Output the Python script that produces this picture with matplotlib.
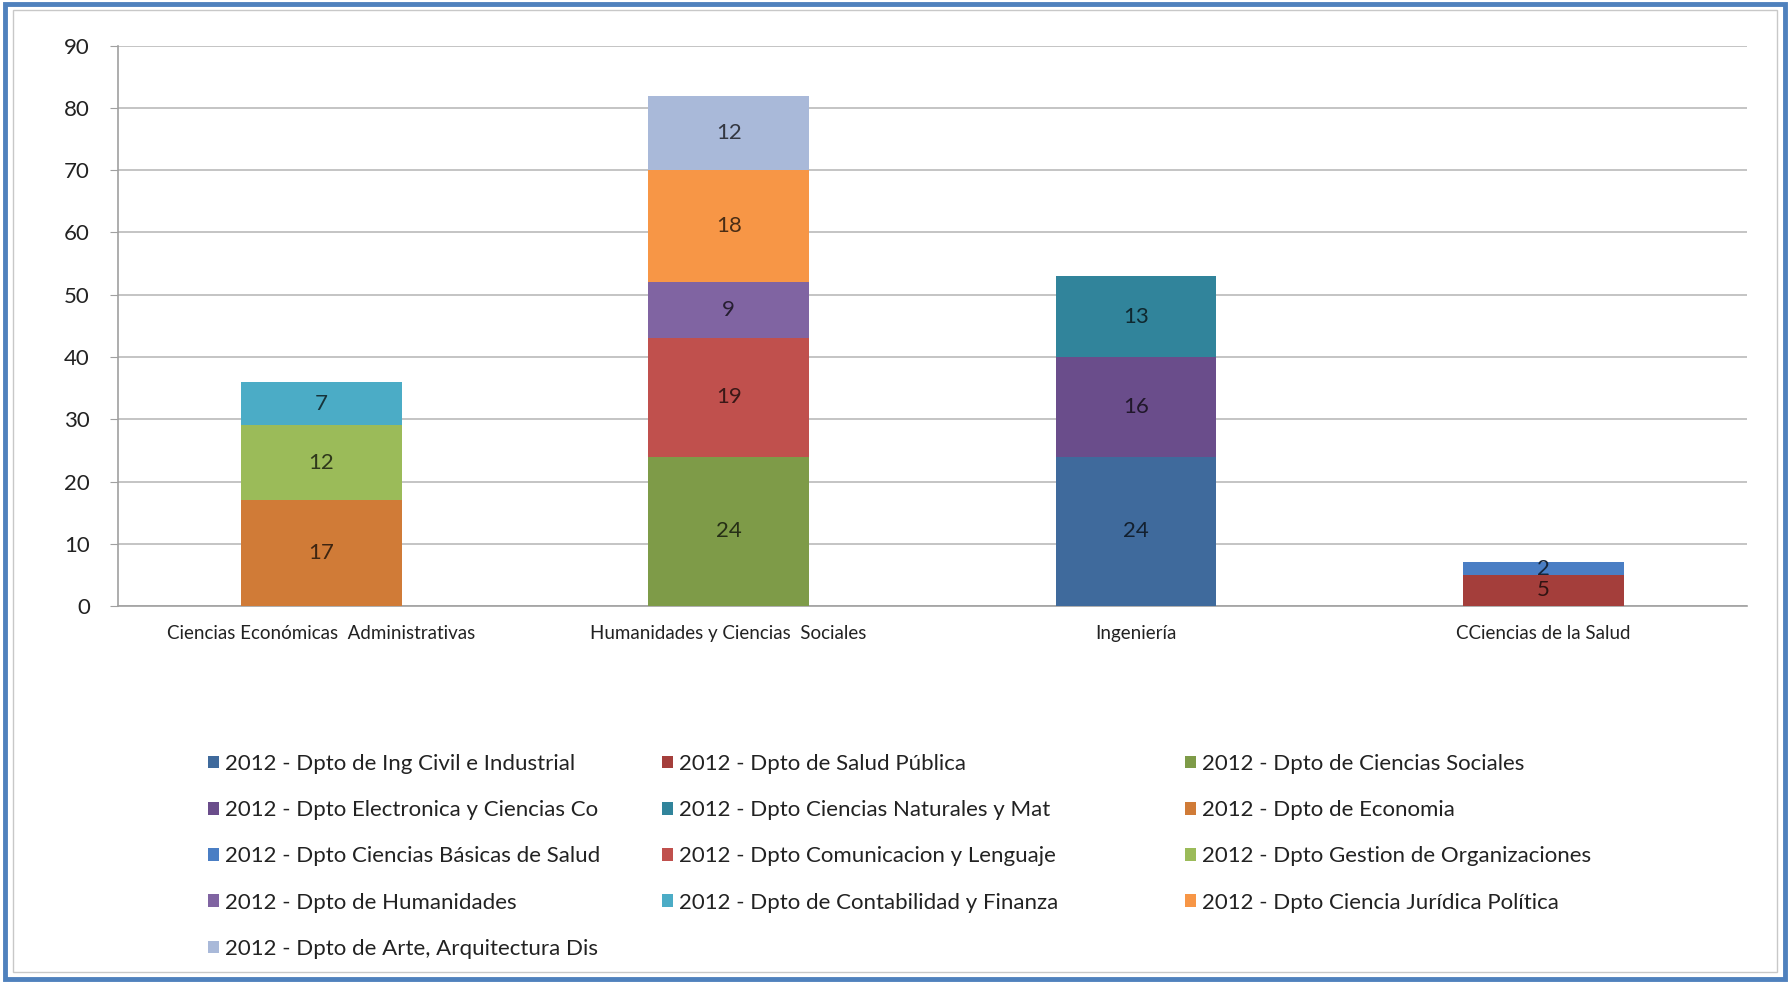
import matplotlib
matplotlib.use("Agg")
import matplotlib.pyplot as plt
from matplotlib.patches import Rectangle
import numpy as np

plt.rcParams['font.family'] = ['Lato', 'DejaVu Sans']

categories = ["Ciencias Económicas  Administrativas", "Humanidades y Ciencias  Sociales",
              "Ingeniería", "CCiencias de la Salud"]

series_names = [
    "2012 - Dpto de Ing Civil e Industrial",
    "2012 - Dpto de Salud Pública",
    "2012 - Dpto de Ciencias Sociales",
    "2012 - Dpto Electronica y Ciencias Co",
    "2012 - Dpto Ciencias Naturales y Mat",
    "2012 - Dpto de Economia",
    "2012 - Dpto Ciencias Básicas de Salud",
    "2012 - Dpto Comunicacion y Lenguaje",
    "2012 - Dpto Gestion de Organizaciones",
    "2012 - Dpto de Humanidades",
    "2012 - Dpto de Contabilidad y Finanza",
    "2012 - Dpto Ciencia Jurídica Política",
    "2012 - Dpto de Arte, Arquitectura Dis",
]

ing_civil        = [0, 0, 24, 0]
salud_publica    = [0, 0, 0, 5]
ciencias_soc     = [0, 24, 0, 0]
electronica      = [0, 0, 16, 0]
ciencias_nat     = [0, 0, 13, 0]
economia         = [17, 0, 0, 0]
ciencias_basicas = [0, 0, 0, 2]
comunicacion     = [0, 19, 0, 0]
gestion          = [12, 0, 0, 0]
humanidades      = [0, 9, 0, 0]
contabilidad     = [7, 0, 0, 0]
juridica         = [0, 18, 0, 0]
arte             = [0, 12, 0, 0]

series_values = [ing_civil, salud_publica, ciencias_soc, electronica, ciencias_nat,
                 economia, ciencias_basicas, comunicacion, gestion, humanidades,
                 contabilidad, juridica, arte]

colors = ["#3F6A9C", "#A43E3B", "#7E9B48", "#6A4D8B", "#31849B", "#D07B37",
          "#4A7EC4", "#C0504D", "#9BBB59", "#8064A2", "#4BACC6", "#F79646", "#A9B9D9"]

yticks = list(range(0, 91, 10))

fig = plt.figure(figsize=(17.9, 9.83), dpi=100)
ax = fig.add_axes([0.0657, 0.3835, 0.9103, 0.57])

x = np.arange(len(categories))
bottom = np.zeros(len(categories))
handles = []
for name, vals, col in zip(series_names, series_values, colors):
    vals = np.array(vals, dtype=float)
    bars = ax.bar(x, vals, 0.395, bottom=bottom, color=col, label=name, zorder=3)
    handles.append(bars)
    rgb = np.array(matplotlib.colors.to_rgb(col))
    tcol = rgb * 0.3
    for xi, v, b in zip(x, vals, bottom):
        if v > 0:
            ax.text(xi, b + v / 2, f"{int(v)}", ha='center', va='center',
                    fontsize=16, color=tcol, zorder=4)
    bottom += vals

ax.set_xlim(-0.5, 3.5)
ax.set_ylim(0, 90)
ax.set_yticks(yticks)
ax.set_yticklabels([str(t) for t in yticks], fontsize=16, color="#222222")
ax.set_xticks(x)
ax.set_xticklabels(categories, fontsize=13.5, color="#222222")
ax.tick_params(axis='y', length=6, color="#A0A0A0", pad=14)
ax.tick_params(axis='x', length=0, pad=14)
ax.grid(axis='y', color="#BFBFBF", linewidth=1.3, zorder=0)
for s in ['top', 'right']:
    ax.spines[s].set_visible(False)
ax.spines['left'].set_color("#A0A0A0")
ax.spines['bottom'].set_color("#A0A0A0")
ax.spines['left'].set_linewidth(1.2)
ax.spines['bottom'].set_linewidth(1.2)

# Legend in three columns, row-major order
col_x = [0.1163, 0.3700, 0.6621]
for c in range(3):
    idx = list(range(c, len(series_names), 3))
    leg = fig.legend([handles[i] for i in idx], [series_names[i] for i in idx],
                     loc='upper left', bbox_to_anchor=(col_x[c], 0.2330),
                     frameon=False, fontsize=16, handlelength=0.5, handleheight=0.5,
                     handletextpad=0.25, labelspacing=1.18, borderpad=0, borderaxespad=0)
    for t in leg.get_texts():
        t.set_color("#222222")

# Border
fig.patches.append(Rectangle((0.003, 0.004), 0.994, 0.992, transform=fig.transFigure,
                             fill=False, edgecolor="#4F81BD", linewidth=3.5))
fig.patches.append(Rectangle((0.0075, 0.0115), 0.985, 0.978, transform=fig.transFigure,
                             fill=False, edgecolor="#C8C8C8", linewidth=1.0))

fig.savefig("out.png", dpi=100)
